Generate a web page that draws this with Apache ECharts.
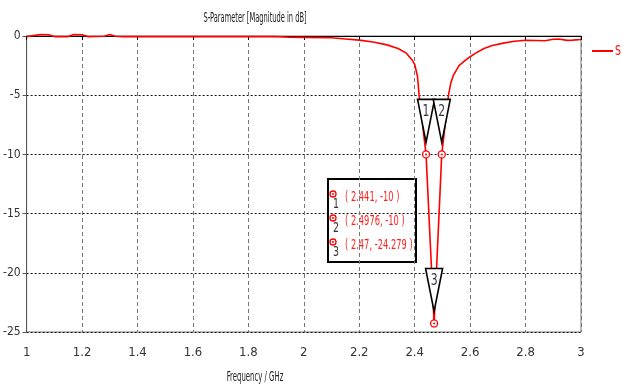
<!DOCTYPE html>
<html>
<head>
<meta charset="utf-8">
<script src="https://cdn.jsdelivr.net/npm/echarts@6/dist/echarts.min.js"></script>
<style>html,body{margin:0;padding:0;background:#fff}#c{width:622px;height:385px}</style>
</head>
<body>
<div id="c"></div>
<script>
// ---- data ----
const freqGHz = [1.0, 1.03, 1.05, 1.08, 1.1, 1.15, 1.17, 1.2, 1.22, 1.28, 1.3, 1.32, 1.35, 1.5, 1.7, 1.9, 1.95, 2.0, 2.1, 2.15, 2.2, 2.25, 2.3, 2.34, 2.37, 2.39, 2.4, 2.41, 2.416, 2.441, 2.47, 2.4976, 2.522, 2.53, 2.54, 2.56, 2.58, 2.6, 2.62, 2.65, 2.68, 2.72, 2.76, 2.8, 2.84, 2.87, 2.9, 2.92, 2.95, 2.97, 3.0];
const s11dB   = [-0.05, 0.05, 0.12, 0.1, -0.05, -0.05, 0.12, 0.1, -0.05, -0.02, 0.12, -0.02, -0.05, -0.05, -0.05, -0.05, -0.1, -0.12, -0.15, -0.25, -0.35, -0.5, -0.75, -1.05, -1.45, -2.0, -2.4, -3.4, -5.0, -10, -24.279, -10, -5.0, -4.0, -3.3, -2.5, -2.1, -1.75, -1.45, -1.05, -0.8, -0.6, -0.45, -0.36, -0.38, -0.4, -0.27, -0.25, -0.37, -0.35, -0.3];
const markerIds  = ['1', '2', '3'];
const markerFreq = [2.441, 2.4976, 2.47];
const markerDb   = [-10, -10, -24.279];
const xTicks = [1, 1.2, 1.4, 1.6, 1.8, 2, 2.2, 2.4, 2.6, 2.8, 3];
const yTicks = [0, -5, -10, -15, -20, -25];
const seriesName = 'S';
const titleText = 'S-Parameter [Magnitude in dB]';
const xName = 'Frequency / GHz';

const FONT = "'DejaVu Sans Condensed','Liberation Sans',sans-serif";
const chart = echarts.init(document.getElementById('c'), null, {renderer: 'canvas'});

const lineData = freqGHz.map((f, i) => [f, s11dB[i]]);
const markerData = markerFreq.map((f, i) => [f, markerDb[i], markerIds[i]]);

function ring(cx, cy, r) {
  return [
    {type: 'circle', shape: {cx, cy, r: r}, style: {fill: '#fff', stroke: '#ff0000', lineWidth: 1.3}},
    {type: 'circle', shape: {cx, cy, r: 1}, style: {fill: '#ff0000'}}
  ];
}

// annotation box content
const boxX = 328, boxY = 179, boxW = 88, boxH = 83;
const boxChildren = [
  {type: 'rect', shape: {x: boxX, y: boxY, width: boxW, height: boxH}, style: {fill: '#fff', stroke: '#000', lineWidth: 2}}
];
markerIds.forEach((id, i) => {
  const cy = 194 + i * 24;
  boxChildren.push(...ring(333, cy, 3));
  boxChildren.push({type: 'text', x: 336, y: cy + 10, scaleX: 0.75, style: {text: id, fill: '#333', font: '14px ' + FONT, textAlign: 'center', textVerticalAlign: 'middle'}});
  boxChildren.push({type: 'text', x: 345, y: cy + 3, scaleX: 0.66, style: {text: '( ' + markerFreq[i] + ', ' + markerDb[i] + ' )', fill: '#ff2020', font: '14px ' + FONT, textAlign: 'left', textVerticalAlign: 'middle'}});
});

const option = {
  animation: false,
  backgroundColor: '#fff',
  grid: {left: 26, right: 41, top: 36, bottom: 53, show: true, borderColor: '#777', borderWidth: 1},
  xAxis: [{
    type: 'value', min: 1, max: 3, interval: 0.2,
    axisLine: {lineStyle: {color: '#000', width: 1}},
    axisTick: {show: true, length: 4, lineStyle: {color: '#000'}},
    axisLabel: {margin: 14, color: '#333', fontFamily: FONT, fontSize: 13, formatter: v => { const t = xTicks.find(x => Math.abs(x - v) < 1e-6); return t === undefined ? '' : String(t); }},
    splitLine: {show: true, lineStyle: {color: '#777', type: [4, 3], width: 1}}
  }, {
    type: 'value', min: 1, max: 3, position: 'top',
    axisLine: {show: true, lineStyle: {color: '#000', width: 1}},
    axisTick: {show: false}, axisLabel: {show: false}, splitLine: {show: false}
  }],
  yAxis: {
    type: 'value', min: -25, max: 0, interval: 5,
    axisLine: {show: true, lineStyle: {color: '#555'}},
    axisTick: {show: true, length: 4, lineStyle: {color: '#555'}},
    axisLabel: {margin: 6, color: '#333', fontFamily: FONT, fontSize: 12, formatter: v => { const t = yTicks.find(y => Math.abs(y - v) < 1e-6); return t === undefined ? '' : String(t); }},
    splitLine: {show: true, lineStyle: {color: '#111', type: [2, 2], width: 1}}
  },
  series: [{
    name: seriesName, type: 'line', data: lineData, symbol: 'none', clip: false,
    lineStyle: {color: '#ff0000', width: 1.6}, itemStyle: {color: '#ff0000'}, z: 2
  }, {
    name: 'markers', type: 'custom', data: markerData, clip: false, z: 5,
    renderItem: (params, api) => {
      const p = api.coord([api.value(0), api.value(1)]);
      const x = p[0], y = p[1];
      const hw = 8.5;
      return {
        type: 'group',
        children: [
          {type: 'polygon', shape: {points: [[x - hw, y - 55], [x + hw, y - 55], [x, y - 12]]}, style: {fill: '#fff', stroke: '#000', lineWidth: 1.6}},
          {type: 'text', x: x, y: y - 42, scaleX: 0.8, style: {text: markerIds[params.dataIndex], fill: '#334', font: '15px ' + FONT, textAlign: 'center', textVerticalAlign: 'middle'}},
          ...ring(x, y, 3.5)
        ]
      };
    }
  }],
  graphic: [
    {type: 'text', x: 255, y: 18, scaleX: 0.53, style: {text: titleText, fill: '#222', font: '14px ' + FONT, textAlign: 'center', textVerticalAlign: 'middle'}},
    {type: 'text', x: 255, y: 377, scaleX: 0.55, style: {text: xName, fill: '#222', font: '14px ' + FONT, textAlign: 'center', textVerticalAlign: 'middle'}},
    {type: 'line', shape: {x1: 592, y1: 51, x2: 613, y2: 51}, style: {stroke: '#ff0000', lineWidth: 2}},
    {type: 'text', x: 615, y: 51, scaleX: 0.75, style: {text: seriesName, fill: '#ff0000', font: '14px ' + FONT, textAlign: 'left', textVerticalAlign: 'middle'}},
    {type: 'group', children: boxChildren, z: 10}
  ]
};
chart.setOption(option);
</script>
</body>
</html>
